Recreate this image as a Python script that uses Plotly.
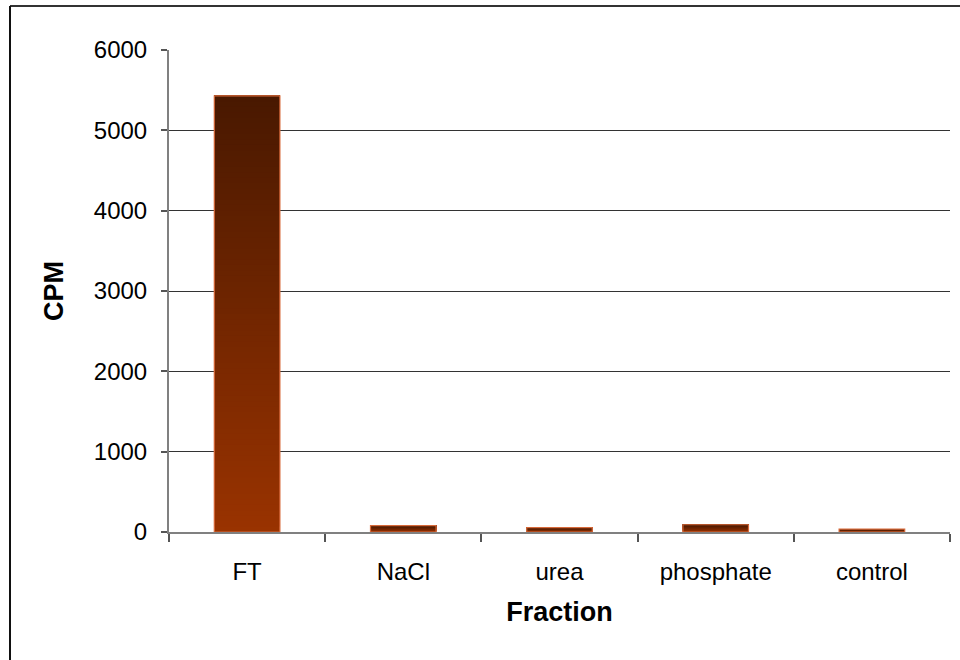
import plotly.graph_objects as go

categories = ["FT", "NaCl", "urea", "phosphate", "control"]
cpm_values = [5430, 80, 55, 90, 35]
y_tick_values = [0, 1000, 2000, 3000, 4000, 5000, 6000]
y_tick_labels = ["0", "1000", "2000", "3000", "4000", "5000", "6000"]

FONT = "Liberation Sans, Arial, sans-serif"
BAR_W = 0.42
N_SEG = 80
BOTTOM_RGB = (0x9A, 0x33, 0x00)
TOP_RGB = (0x48, 0x18, 0x00)

fig = go.Figure()

# vertical gradient: overlapping slices of each bar, each reaching the bar top
for i in range(N_SEG):
    t = (i + 0.5) / N_SEG
    r = round(BOTTOM_RGB[0] + (TOP_RGB[0] - BOTTOM_RGB[0]) * t)
    g = round(BOTTOM_RGB[1] + (TOP_RGB[1] - BOTTOM_RGB[1]) * t)
    b = round(BOTTOM_RGB[2] + (TOP_RGB[2] - BOTTOM_RGB[2]) * t)
    fig.add_trace(go.Bar(
        x=categories,
        y=[v * (1 - i / N_SEG) for v in cpm_values],
        base=[v * i / N_SEG for v in cpm_values],
        width=BAR_W,
        marker=dict(color=f"rgb({r},{g},{b})", line=dict(width=0)),
        showlegend=False,
        hoverinfo="skip",
    ))

# outline of each bar
fig.add_trace(go.Bar(
    x=categories,
    y=cpm_values,
    base=[0] * len(cpm_values),
    width=BAR_W,
    marker=dict(color="rgba(0,0,0,0)", line=dict(color="#d86a3a", width=1.2)),
    showlegend=False,
    name="CPM",
))

fig.update_layout(
    width=960,
    height=660,
    margin=dict(l=169, r=10, t=50, b=128),
    paper_bgcolor="white",
    plot_bgcolor="white",
    barmode="overlay",
    font=dict(family=FONT, size=24, color="black"),
    xaxis=dict(
        type="category",
        showgrid=False,
        showline=True,
        linecolor="#808080",
        linewidth=2,
        ticks="outside",
        tickson="boundaries",
        ticklen=8,
        tickcolor="#555555",
        tickwidth=1.5,
        ticklabelstandoff=17,
        tickfont=dict(family=FONT, size=24, color="black"),
        title=dict(text="<b>Fraction</b>", font=dict(family=FONT, size=27, color="black"), standoff=18),
    ),
    yaxis=dict(
        range=[0, 6000],
        tickvals=y_tick_values,
        ticktext=y_tick_labels,
        showgrid=True,
        gridcolor="#333333",
        gridwidth=1,
        zeroline=False,
        showline=True,
        linecolor="#808080",
        linewidth=2,
        ticks="outside",
        ticklen=6,
        tickcolor="#555555",
        tickwidth=1.5,
        ticklabelstandoff=9,
        tickfont=dict(family=FONT, size=24, color="black"),
        title=dict(text="<b>CPM</b>", font=dict(family=FONT, size=27, color="black"), standoff=22),
    ),
    shapes=[
        dict(type="line", xref="paper", yref="paper",
             x0=(10 - 169) / 781, x1=1.1, y0=(532 - 6) / 482, y1=(532 - 6) / 482,
             line=dict(color="#333333", width=2)),
        dict(type="line", xref="paper", yref="paper",
             x0=(10 - 169) / 781, x1=(10 - 169) / 781, y0=(532 - 6) / 482, y1=-0.4,
             line=dict(color="#111111", width=2)),
    ],
)

fig.write_html("out.html")
